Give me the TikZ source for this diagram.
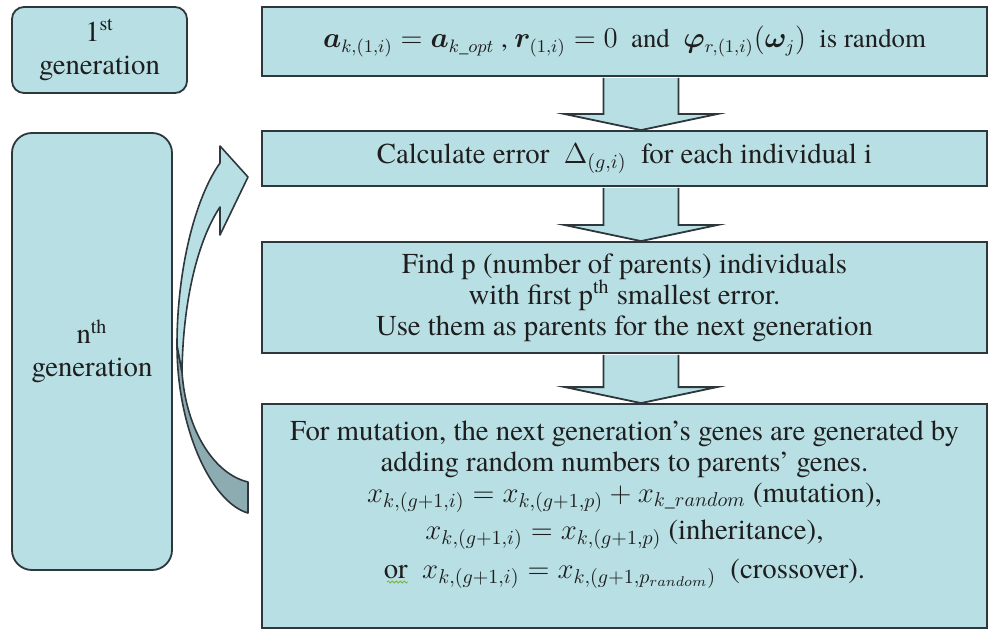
\documentclass[tikz,border=0pt]{standalone}
\usepackage{amsmath}
\usepackage{bm}
\usepackage[no-math]{fontspec}
\setmainfont{texgyretermes}[Extension=.otf, UprightFont=*-regular, BoldFont=*-bold,
  ItalicFont=*-italic, BoldItalicFont=*-bolditalic]
\usetikzlibrary{calc, decorations.pathmorphing}
\definecolor{paleteal}{RGB}{184,223,228}
\definecolor{darkteal}{RGB}{140,172,177}
\definecolor{edge}{RGB}{45,55,60}
\definecolor{ink}{RGB}{30,30,30}
\definecolor{spellgreen}{RGB}{125,180,60}

% block arrow from the bottom of one box to the top of the next
\newcommand{\flowarrow}[2]{%
  \draw[blockarrow] let \p1=($(#1.south)+(16.5,0)$), \p2=(#2.north) in
    (\x1-18.75pt,\y1-0.45pt) -- (\x1-18.75pt,\y2+8pt) -- (\x1-38pt,\y2+8pt) -- (\x1,\y2)
    -- (\x1+38pt,\y2+8pt) -- (\x1+18.75pt,\y2+8pt) -- (\x1+18.75pt,\y1-0.45pt);}

\begin{document}
\begin{tikzpicture}[x=0.5pt, y=-0.5pt,
  every node/.style={font=\fontsize{14.4}{15.5}\selectfont, text=ink},
  genbox/.style={draw=edge, line width=0.9pt, fill=paleteal, rounded corners=#1, inner sep=0pt, align=center},
  genbox/.default=6pt,
  stepbox/.style={draw=edge, line width=0.9pt, fill=paleteal, inner sep=0pt, align=center,
    minimum width=362.5pt},
  blockarrow/.style={draw=edge, line width=0.9pt, fill=paleteal, line join=miter},
  ribbon/.style={draw=edge, line width=0.8pt, line join=round}]
  \useasboundingbox (0,0) rectangle (992,631);

  % Generation labels
  \node[genbox=6pt, minimum width=87.5pt, minimum height=43pt] (gen1) at (99.5,50)
    {1\textsuperscript{st}\\[1pt]generation};
  \node[genbox=10pt, minimum width=80pt, minimum height=218.5pt] (genn) at (92,351.5)
    {n\textsuperscript{th}\\[1pt]generation};

  % Steps of the algorithm
  \node[stepbox, minimum height=34.5pt, font=\fontsize{13.4}{15}\selectfont] (init) at (624.5,41.5)
    {$\bm{a}_{k,(1,i)} = \bm{a}_{k\_opt}$ , $\bm{r}_{(1,i)} = 0$ \ and \ $\bm{\varphi}_{r,(1,i)}(\bm{\omega}_j)$ \ is random};
  \node[stepbox, minimum height=27.5pt] (evalbox) at (624.5,158.5)
    {Calculate error \ $\Delta_{(g,i)}$ \ for each individual i};
  \node[stepbox, minimum height=55.5pt] (select) at (624.5,297.5)
    {Find p (number of parents) individuals\\
     with first p\textsuperscript{th} smallest error.\\
     Use them as parents for the next generation};
  \node[stepbox, minimum height=112pt] (breed) at (624.5,516) {};
  \node[align=center] (breedtext) at ($(breed.center)+(0,-11.5)$)
    {For mutation, the next generation’s genes are generated by\\
     adding random numbers to parents’ genes.\\
     $x_{k,(g+1,i)} = x_{k,(g+1,p)} + x_{k\_random}$ (mutation),\\[3pt]
     $x_{k,(g+1,i)} = x_{k,(g+1,p)}$ (inheritance),\\[4pt]
     or \ $x_{k,(g+1,i)} = x_{k,(g+1,p_{random})}$ \ (crossover).};
  % spell-check squiggle under "or"
  \draw[spellgreen, line width=0.4pt, decorate, decoration={snake, amplitude=0.5pt, segment length=2pt}]
    (387,582) -- (408,582);

  % Arrows between the steps
  \flowarrow{init}{evalbox}
  \flowarrow{evalbox}{select}
  \flowarrow{select}{breed}

  % Curved arrow back to the error step
  \draw[ribbon, fill=darkteal] (177,345) .. controls (177,430) and (212,503) .. (248,513)
    -- (248,482) .. controls (214,474) and (186,430) .. (182,372) -- cycle;
  \draw[ribbon, fill=paleteal] (177,345) .. controls (177,270) and (195,198) .. (220,163)
    -- (220,146) -- (248,177) -- (220,235) -- (220,207)
    .. controls (198,240) and (183,300) .. (182,372) -- cycle;
\end{tikzpicture}
\end{document}
